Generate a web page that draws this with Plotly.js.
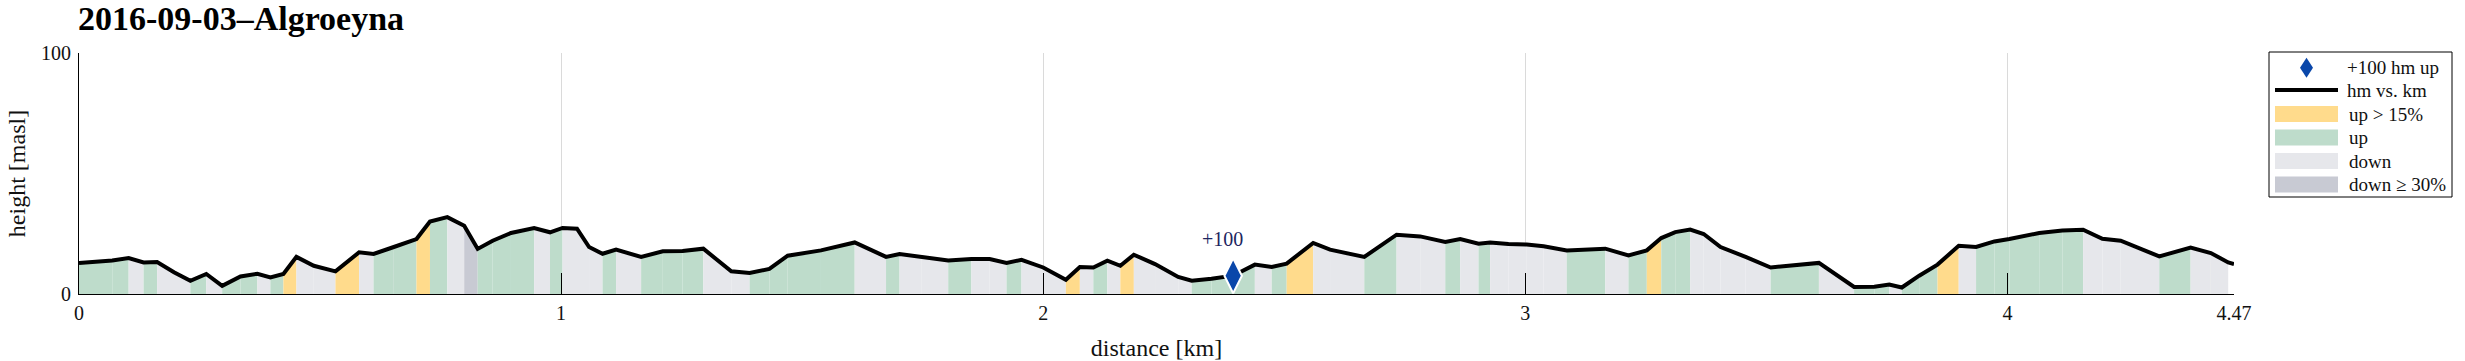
<!DOCTYPE html>
<html>
<head>
<meta charset="utf-8">
<script src="https://cdn.plot.ly/plotly-3.0.1.min.js"></script>
<style>html,body{margin:0;padding:0;background:#fff;}#chart{width:2465px;height:361px;}</style>
</head>
<body>
<div id="chart"></div>
<script>
// distance along the route [km]
const km = [0.000,0.069,0.103,0.134,0.162,0.197,0.231,0.264,0.297,0.335,
  0.370,0.397,0.424,0.451,0.487,0.532,0.581,0.611,0.653,0.700,
  0.728,0.764,0.799,0.827,0.858,0.896,0.944,0.977,1.003,1.033,
  1.058,1.086,1.114,1.166,1.211,1.252,1.295,1.353,1.391,1.432,
  1.470,1.539,1.609,1.674,1.702,1.747,1.803,1.851,1.889,1.924,
  1.955,2.000,2.047,2.076,2.104,2.133,2.160,2.188,2.232,2.280,
  2.308,2.349,2.394,2.439,2.474,2.505,2.560,2.595,2.666,2.733,
  2.782,2.834,2.865,2.903,2.927,2.965,3.003,3.038,3.086,3.166,
  3.214,3.252,3.282,3.311,3.342,3.370,3.405,3.457,3.509,3.609,
  3.682,3.724,3.755,3.781,3.817,3.855,3.899,3.935,3.973,4.004,
  4.066,4.114,4.157,4.197,4.235,4.315,4.380,4.422,4.458,4.470];
// height [masl]
const hm = [12.9,13.9,14.9,13.1,13.3,9.0,5.5,8.3,3.4,7.3,
  8.4,6.9,8.3,15.4,11.7,9.4,17.3,16.6,19.5,22.8,
  30.1,31.9,28.3,18.7,22.1,25.3,27.4,25.6,27.4,27.1,
  19.5,16.7,18.4,15.4,17.7,17.8,18.8,9.4,8.7,10.4,
  15.9,18.1,21.4,15.4,16.6,15.4,13.9,14.5,14.5,12.9,
  14.2,11.0,5.9,11.2,11.0,13.8,11.7,16.3,12.4,7.1,
  5.5,6.3,7.6,12.2,11.2,12.6,21.2,18.4,15.4,24.6,
  23.9,21.6,22.8,20.9,21.4,20.7,20.5,19.8,18.1,18.8,
  16.0,18.1,23.2,25.7,26.7,24.9,19.5,15.4,11.0,12.9,
  2.9,3.0,3.9,2.7,7.6,12.2,20.0,19.5,21.8,22.8,
  25.3,26.3,26.7,22.9,22.1,15.6,19.3,17.0,13.1,12.4];
// class of each segment between consecutive points:
// U = up > 15%, u = up, d = down, D = down >= 30%, n = none
const segClass = ['u','u','d','u','d','d','u','d','u','u',
  'd','u','U','d','d','U','d','u','u','U',
  'u','d','D','u','u','u','d','u','d','d',
  'd','u','d','u','u','u','d','d','u','u',
  'u','u','d','u','d','d','u','d','d','u',
  'd','d','U','d','u','d','U','d','d','d',
  'u','u','u','d','u','U','d','d','u','d',
  'd','u','d','u','d','d','d','d','u','d',
  'u','U','u','u','d','d','d','d','u','d',
  'u','u','d','u','u','U','d','u','u','u',
  'u','u','d','d','d','u','d','d','n'];
// +100 hm marker
const markKm = [2.394];
const markHm = [7.6];
const markLabel = ['+100'];
// legend entries
const legendLabels = ['+100 hm up', 'hm vs. km', 'up > 15%', 'up', 'down', 'down ≥ 30%'];
const legendKinds = ['marker', 'line', 'U', 'u', 'd', 'D'];
const classNames = {U:'up > 15%', u:'up', d:'down', D:'down ≥ 30%'};
const classColors = {U:'#ffdb8c', u:'#bedccb', d:'#e6e7eb', D:'#c8cad3'};
// axis ticks
const xTicks = [0,1,2,3,4,4.47];
const xTickText = ['0','1','2','3','4','4.47'];
const yTicks = [0,100];
const yTickText = ['0','100'];

const FONT = 'Liberation Serif, Times New Roman, serif';
const MARK_COLOR = '#0a47aa';
const W = 2465, H = 361;
const M = {l: 79, r: 231, t: 53, b: 67};
const PW = W - M.l - M.r, PH = H - M.t - M.b;
const px = v => (v - M.l) / PW;       // pixel x -> paper
const py = v => (H - M.b - v) / PH;   // pixel y -> paper

const traces = [];
for (let i = 0; i < segClass.length; i++) {
  const c = segClass[i];
  if (c === 'n') continue;
  traces.push({
    type: 'scatter', mode: 'none',
    x: [km[i], km[i+1]], y: [hm[i], hm[i+1]],
    fill: 'tozeroy', fillcolor: classColors[c],
    name: classNames[c], showlegend: false, hoverinfo: 'skip'
  });
}
traces.push({
  type: 'scatter', mode: 'lines', x: km, y: hm,
  line: {color: '#000', width: 4}, name: 'hm vs. km', showlegend: false, hoverinfo: 'skip'
});
traces.push({
  type: 'scatter', mode: 'markers', x: markKm, y: markHm,
  marker: {symbol: 'diamond-tall', size: 25, color: MARK_COLOR, line: {color: '#fff', width: 2}},
  name: '+100 hm up', showlegend: false, hoverinfo: 'skip'
});

const annotations = markKm.map((x, i) => ({
  x: x, y: markHm[i], xref: 'x', yref: 'y', text: markLabel[i], showarrow: false,
  xshift: -11, yshift: 37, font: {family: FONT, size: 20, color: '#1c2560'}
}));

// legend box (drawn with shapes + text)
const shapes = [];
const LB = {x0: 2269, x1: 2452, y0: 52, y1: 197};
shapes.push({type: 'rect', xref: 'paper', yref: 'paper', x0: px(LB.x0), x1: px(LB.x1),
  y0: py(LB.y1), y1: py(LB.y0), line: {color: '#000', width: 1}, fillcolor: '#fff', layer: 'above'});
const rowY = [67.7, 90, 114, 137.5, 161, 184.5];
const sw0 = 2275, sw1 = 2338;
legendKinds.forEach((k, i) => {
  const yc = rowY[i];
  if (k === 'marker') {
    const cx = (sw0 + sw1) / 2, hw = 6.5, hh = 10;
    shapes.push({type: 'path', xref: 'paper', yref: 'paper', layer: 'above',
      path: `M${px(cx)},${py(yc - hh)} L${px(cx + hw)},${py(yc)} L${px(cx)},${py(yc + hh)} L${px(cx - hw)},${py(yc)} Z`,
      fillcolor: MARK_COLOR, line: {width: 0}});
  } else if (k === 'line') {
    shapes.push({type: 'line', xref: 'paper', yref: 'paper', layer: 'above',
      x0: px(sw0), x1: px(sw1), y0: py(yc), y1: py(yc), line: {color: '#000', width: 4}});
  } else {
    shapes.push({type: 'rect', xref: 'paper', yref: 'paper', layer: 'above',
      x0: px(sw0), x1: px(sw1), y0: py(yc + 8), y1: py(yc - 8),
      fillcolor: classColors[k], line: {width: 0}});
  }
  annotations.push({xref: 'paper', yref: 'paper', x: px(i < 2 ? 2345 : 2347), y: py(yc),
    xanchor: 'left', yanchor: 'middle', showarrow: false, text: legendLabels[i],
    font: {family: FONT, size: 19, color: '#111'}});
});

const layout = {
  width: W, height: H,
  margin: {l: M.l, r: M.r, t: M.t, b: M.b, pad: 0},
  paper_bgcolor: '#fff', plot_bgcolor: '#fff',
  font: {family: FONT, size: 20, color: '#111'},
  title: {text: '<b>2016-09-03–Algroeyna</b>', font: {family: FONT, size: 34, color: '#000'},
    xref: 'container', x: 78/W, xanchor: 'left', yref: 'container', y: 1 - 18/H, yanchor: 'middle'},
  xaxis: {range: [0, 4.47], tickvals: xTicks, ticktext: xTickText,
    ticks: 'inside', ticklen: 21, tickwidth: 1, tickcolor: '#000',
    showgrid: true, gridcolor: '#dadada', gridwidth: 1, zeroline: false,
    showline: true, linecolor: '#000', linewidth: 1, mirror: false,
    ticklabelstandoff: 1, tickfont: {family: FONT, size: 20, color: '#111'},
    title: {text: 'distance [km]', font: {family: FONT, size: 24, color: '#111'}, standoff: 16}},
  yaxis: {range: [0, 100], tickvals: yTicks, ticktext: yTickText,
    ticks: 'inside', ticklen: 21, tickwidth: 1, tickcolor: '#000',
    showgrid: true, gridcolor: '#dadada', gridwidth: 1, zeroline: false,
    showline: true, linecolor: '#000', linewidth: 1, mirror: false,
    ticklabelstandoff: 3, tickfont: {family: FONT, size: 20, color: '#111'},
    title: {text: 'height [masl]', font: {family: FONT, size: 24, color: '#111'}, standoff: 8}},
  shapes: shapes,
  annotations: annotations,
  showlegend: false
};
Plotly.newPlot('chart', traces, layout, {staticPlot: true, displayModeBar: false});
</script>
</body>
</html>
